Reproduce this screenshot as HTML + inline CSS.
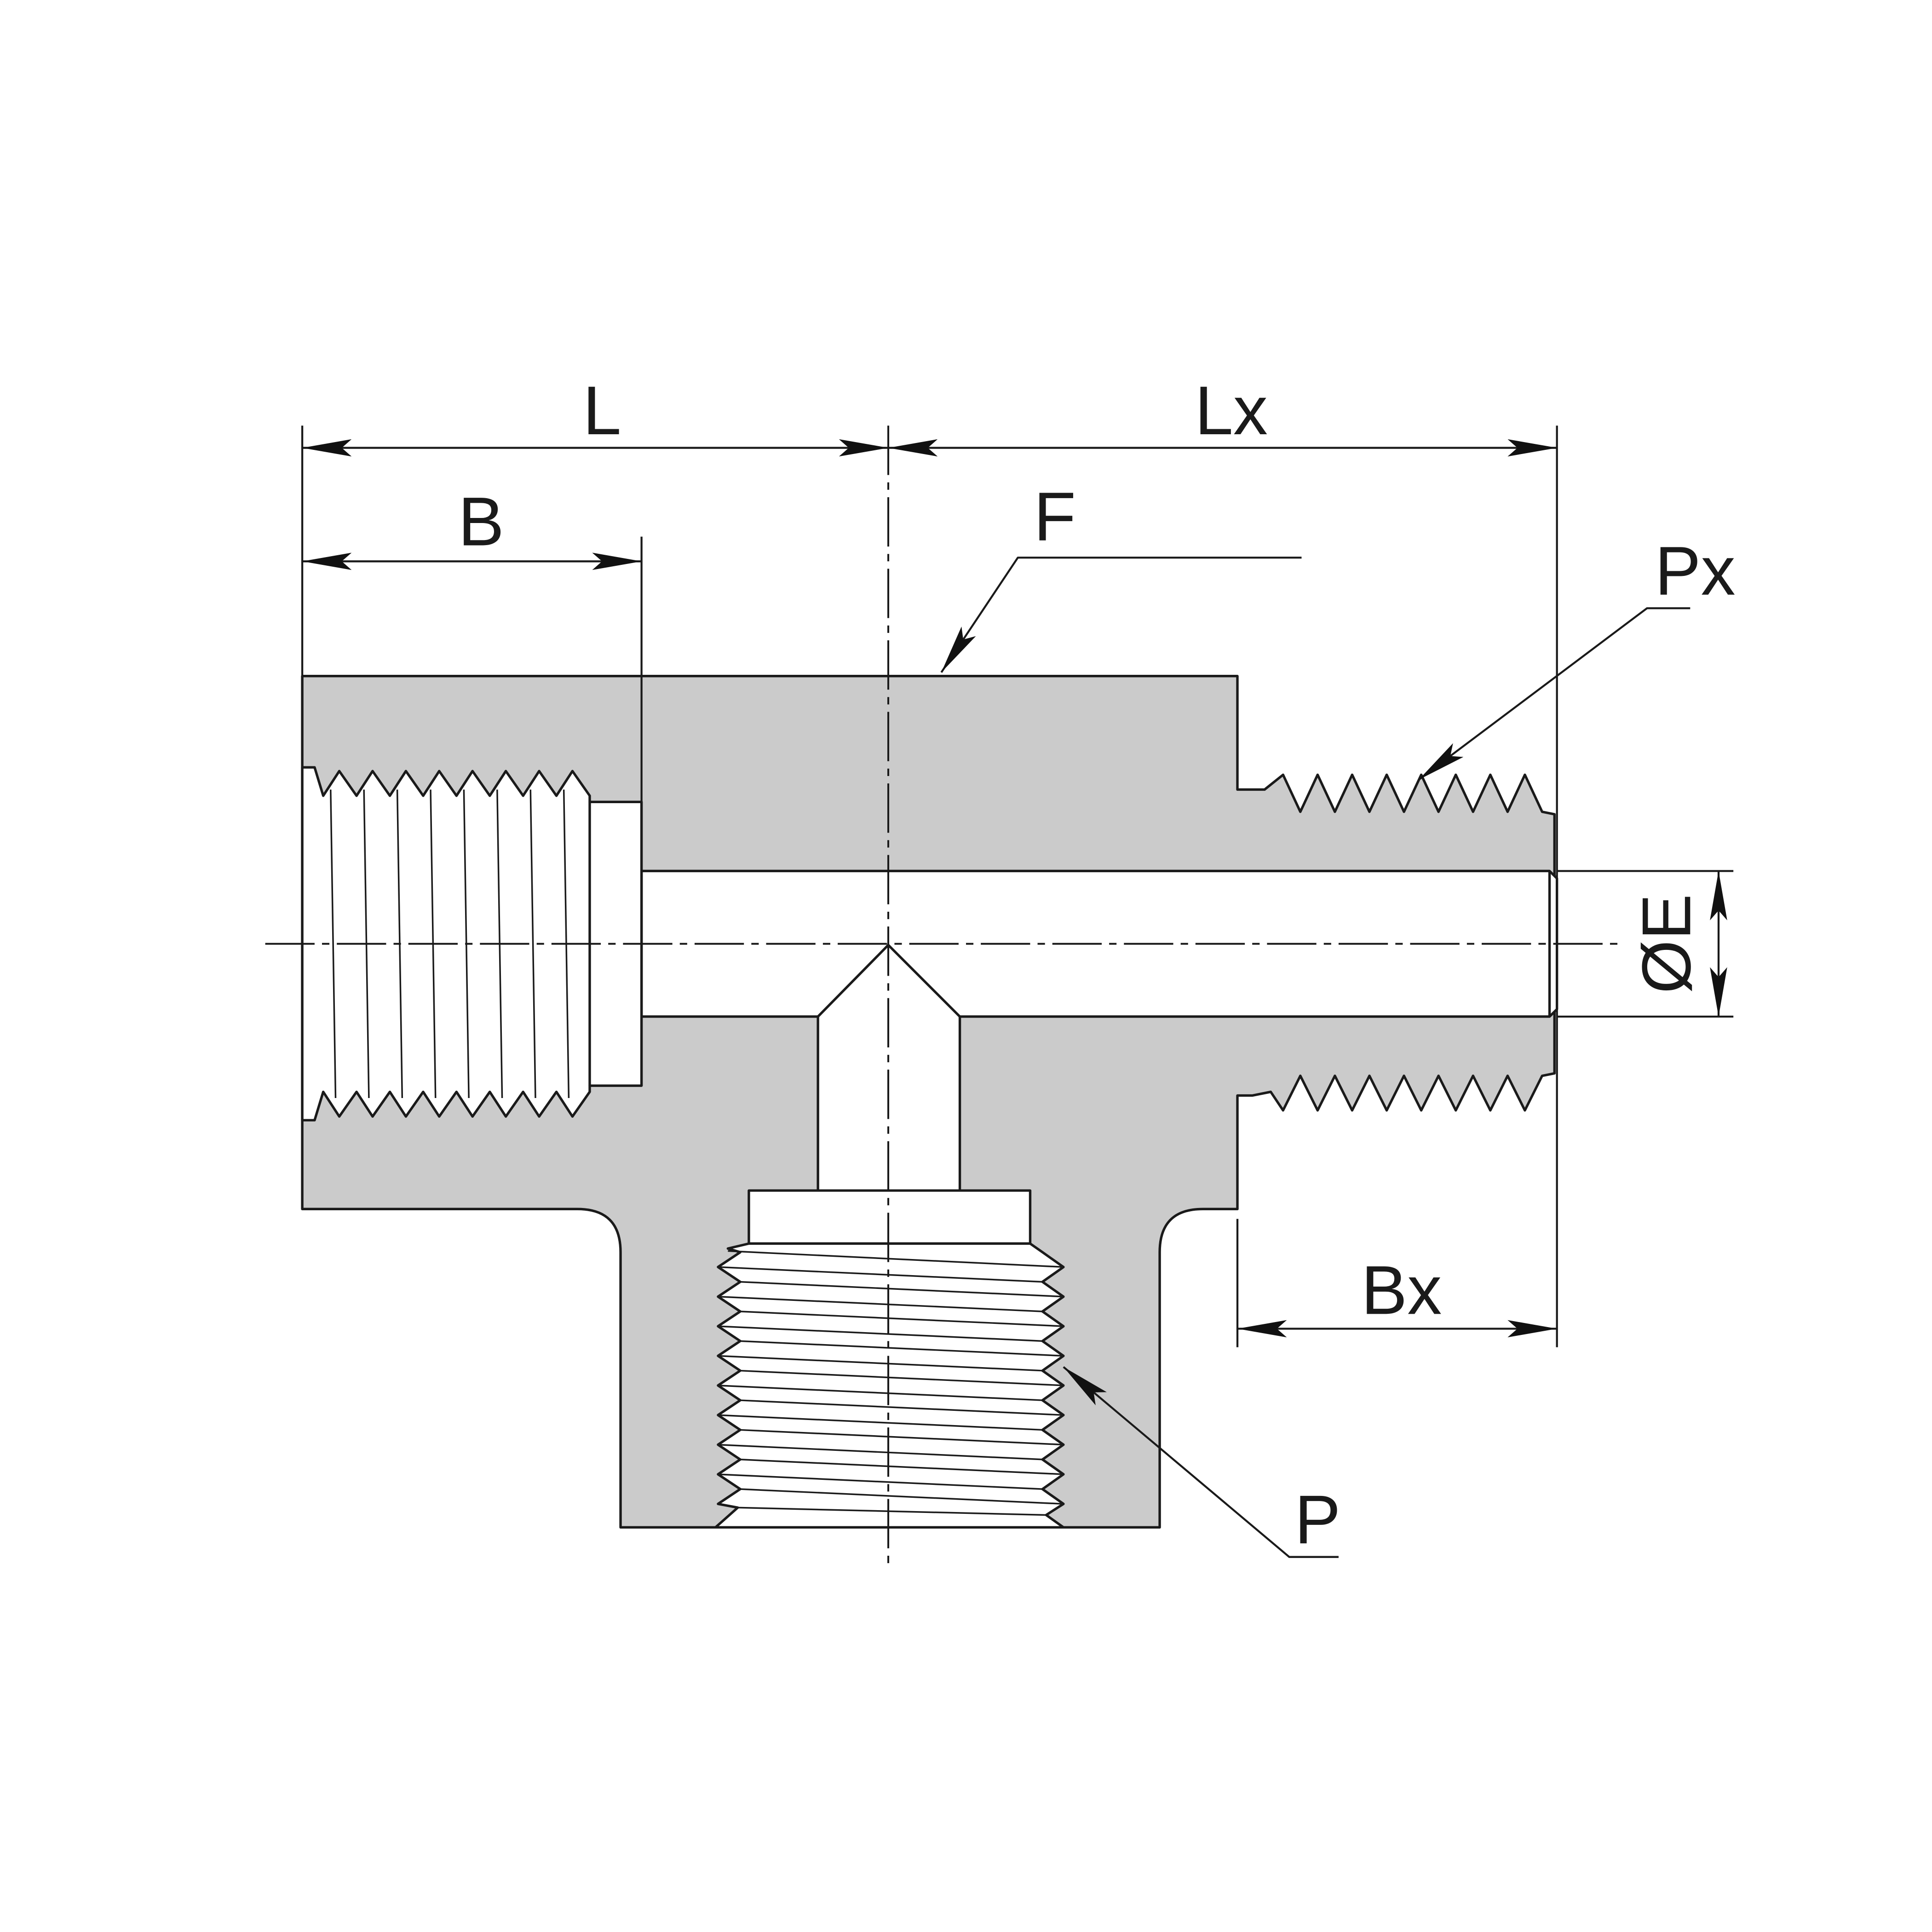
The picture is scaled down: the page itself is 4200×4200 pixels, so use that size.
<!DOCTYPE html>
<html><head><style>html,body{margin:0;padding:0;background:#fff}svg{display:block}</style></head>
<body>
<svg width="4200" height="4200" viewBox="0 0 1566 1566" xmlns="http://www.w3.org/2000/svg">
<defs>
<marker id="a" markerWidth="40" markerHeight="14" refX="40" refY="7" orient="auto-start-reverse" markerUnits="userSpaceOnUse">
<path d="M0,0 L40,7 L0,14 L8,7 Z" fill="#111"/></marker>
</defs>
<g stroke="#1a1a1a" stroke-width="2" stroke-linejoin="round">
<path fill="#cbcbcb" d="M245,548 L1003,548 L1003,640 L1025,640 L1030,636 L1040,628 L1054,658 L1068,628 L1082,658 L1096,628 L1110,658 L1124,628 L1138,658 L1152,628 L1166,658 L1180,628 L1194,658 L1208,628 L1222,658 L1236,628 L1250,658 L1260,660 L1260,870 L1250,872 L1236,900 L1222,872 L1208,900 L1194,872 L1180,900 L1166,872 L1152,900 L1138,872 L1124,900 L1110,872 L1096,900 L1082,872 L1068,900 L1054,872 L1040,900 L1030,885 L1015,888 L1003,888 L1003,980 L975,980 Q940,980 940,1015 L940,1238 L503,1238 L503,1015 Q503,980 468,980 L245,980 Z"/>
<path fill="#fff" d="M520,706 L1256,706 L1262,712 L1262,818 L1256,824 L778,824 L778,965 L663,965 L663,824 L520,824 Z"/>
<line x1="1256" y1="706" x2="1256" y2="824"/>
<path fill="none" d="M663,824 L720,766 L778,824"/>
<path fill="#fff" d="M245,622 L255,622 L262,645 L275,625 L289,645 L302,625 L316,645 L329,625 L343,645 L356,625 L370,645 L383,625 L397,645 L410,625 L424,645 L437,625 L451,645 L464,625 L478,645 L478,650 L520,650 L520,880 L478,880 L478,885 L464,905 L451,885 L437,905 L424,885 L410,905 L397,885 L383,905 L370,885 L356,905 L343,885 L329,905 L316,885 L302,905 L289,885 L275,905 L262,885 L255,908 L245,908 Z"/>
<line x1="478" y1="650" x2="478" y2="880"/>
<g stroke-width="1.3">
<line x1="268" y1="640" x2="272" y2="890"/><line x1="295" y1="640" x2="299" y2="890"/><line x1="322" y1="640" x2="326" y2="890"/><line x1="349" y1="640" x2="353" y2="890"/><line x1="376" y1="640" x2="380" y2="890"/><line x1="403" y1="640" x2="407" y2="890"/><line x1="430" y1="640" x2="434" y2="890"/><line x1="457" y1="640" x2="461" y2="890"/>
</g>
<rect x="607" y="965" width="228" height="43" fill="#fff"/>
<path fill="#fff" d="M607,1008 L835,1008 L845,1015 L862,1027 L845,1039 L862,1051 L845,1063 L862,1075 L845,1087 L862,1099 L845,1111 L862,1123 L845,1135 L862,1147 L845,1159 L862,1171 L845,1183 L862,1195 L845,1207 L862,1219 L848,1228 L862,1238 L580,1238 L598,1222 L582,1219 L600,1207 L582,1195 L600,1183 L582,1171 L600,1159 L582,1147 L600,1135 L582,1123 L600,1111 L582,1099 L600,1087 L582,1075 L600,1063 L582,1051 L600,1039 L582,1027 L600,1015 L590,1012 Z"/>
<g stroke-width="1.3">
<line x1="590" y1="1014" x2="862" y2="1027"/><line x1="582" y1="1027" x2="845" y2="1039"/><line x1="600" y1="1039" x2="862" y2="1051"/><line x1="582" y1="1051" x2="845" y2="1063"/><line x1="600" y1="1063" x2="862" y2="1075"/><line x1="582" y1="1075" x2="845" y2="1087"/><line x1="600" y1="1087" x2="862" y2="1099"/><line x1="582" y1="1099" x2="845" y2="1111"/><line x1="600" y1="1111" x2="862" y2="1123"/><line x1="582" y1="1123" x2="845" y2="1135"/><line x1="600" y1="1135" x2="862" y2="1147"/><line x1="582" y1="1147" x2="845" y2="1159"/><line x1="600" y1="1159" x2="862" y2="1171"/><line x1="582" y1="1171" x2="845" y2="1183"/><line x1="600" y1="1183" x2="862" y2="1195"/><line x1="582" y1="1195" x2="845" y2="1207"/><line x1="600" y1="1207" x2="862" y2="1219"/><line x1="598" y1="1222" x2="848" y2="1228"/>
</g>
<g stroke-width="1.5" stroke-dasharray="40,6,6,6" fill="none">
<line x1="215" y1="765" x2="1312" y2="765"/>
<line x1="720" y1="345" x2="720" y2="1272"/>
</g>
<g stroke-width="1.6">
<line x1="245" y1="345" x2="245" y2="548"/>
<line x1="520" y1="435" x2="520" y2="650"/>
<line x1="1262" y1="345" x2="1262" y2="1092"/>
<line x1="1003" y1="988" x2="1003" y2="1092"/>
<line x1="1262" y1="706" x2="1405" y2="706"/>
<line x1="1262" y1="824" x2="1405" y2="824"/>
</g>
<g stroke-width="1.6" fill="none">
<line x1="245" y1="363" x2="720" y2="363" marker-start="url(#a)" marker-end="url(#a)"/>
<line x1="720" y1="363" x2="1262" y2="363" marker-start="url(#a)" marker-end="url(#a)"/>
<line x1="245" y1="455" x2="520" y2="455" marker-start="url(#a)" marker-end="url(#a)"/>
<line x1="1003" y1="1077" x2="1262" y2="1077" marker-start="url(#a)" marker-end="url(#a)"/>
<line x1="1393" y1="706" x2="1393" y2="824" marker-start="url(#a)" marker-end="url(#a)"/>
<polyline points="1055,452 825,452 763,545" marker-end="url(#a)"/>
<polyline points="1370,493 1335,493 1150,632" marker-end="url(#a)"/>
<polyline points="1085,1262 1045,1262 862,1108" marker-end="url(#a)"/>
</g>
</g>
<g font-family="Liberation Sans, sans-serif" font-size="56" fill="#1a1a1a" text-anchor="middle">
<text x="488" y="352">L</text>
<text x="998" y="352">Lx</text>
<text x="390" y="442">B</text>
<text x="855" y="438">F</text>
<text x="1374" y="482">Px</text>
<text x="1136" y="1065">Bx</text>
<text x="1068" y="1251">P</text>
<text x="0" y="0" transform="translate(1370,765) rotate(-90)">ØE</text>
</g>
</svg>
</body></html>
